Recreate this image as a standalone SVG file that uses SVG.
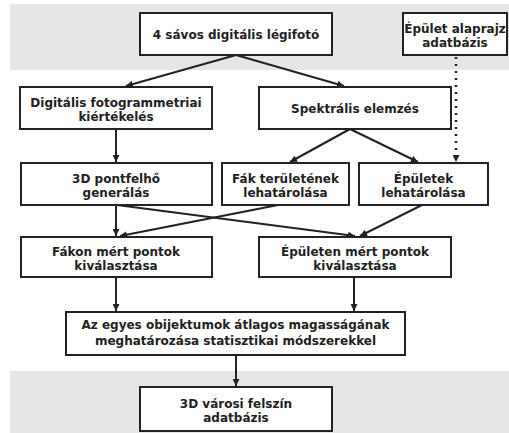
<svg xmlns="http://www.w3.org/2000/svg" width="509" height="433" viewBox="0 0 509 433">
<defs>
<marker id="ah" markerUnits="userSpaceOnUse" markerWidth="8" markerHeight="7" refX="7" refY="3.5" orient="auto">
<path d="M0,0 L7,3.5 L0,7 Z" fill="#222"/>
</marker>
<style>
.box{fill:#fff;stroke:#222;stroke-width:2}
.band{fill:#e6e6e6}
text{font-family:"DejaVu Sans",Verdana,sans-serif;font-weight:bold;font-size:12px;fill:#222;text-anchor:middle}
.c{stroke:#222;stroke-width:2;fill:none;marker-end:url(#ah)}
.d{stroke-dasharray:2,5;stroke-width:2.5}
</style>
</defs>
<rect class="band" x="10" y="4" width="499" height="66"/>
<rect class="band" x="10" y="371" width="499" height="62"/>
<g id="connectors">
<line class="c" x1="236" y1="55" x2="126" y2="86"/>
<line class="c" x1="236" y1="55" x2="344" y2="86"/>
<line class="c" x1="116" y1="129" x2="116" y2="162"/>
<line class="c" x1="350" y1="129" x2="290" y2="162"/>
<line class="c" x1="350" y1="129" x2="418" y2="162"/>
<line class="c d" x1="456" y1="57" x2="456" y2="162"/>
<line class="c" x1="116" y1="205" x2="116" y2="236"/>
<line class="c" x1="117" y1="205" x2="355" y2="236"/>
<line class="c" x1="278" y1="205" x2="120" y2="236"/>
<line class="c" x1="422" y1="205" x2="360" y2="236"/>
<line class="c" x1="116" y1="277" x2="116" y2="311"/>
<line class="c" x1="354" y1="277" x2="354" y2="311"/>
<line class="c" x1="236" y1="355" x2="236" y2="386"/>
</g>
<g id="n1"><rect class="box" x="140" y="13" width="192" height="42"/><text x="236" y="39">4 sávos digitális légifotó</text></g>
<g id="n2"><rect class="box" x="403" y="13" width="104" height="42"/><text x="455" y="32.5">Épület alaprajz</text><text x="455" y="46.5">adatbázis</text></g>
<g id="n3"><rect class="box" x="20" y="87" width="192" height="42"/><text x="116" y="106.5">Digitális fotogrammetriai</text><text x="116" y="120.5">kiértékelés</text></g>
<g id="n4"><rect class="box" x="259" y="87" width="192" height="42"/><text x="355" y="113">Spektrális elemzés</text></g>
<g id="n5"><rect class="box" x="21" y="163" width="191" height="42"/><text x="116" y="182.5">3D pontfelhő</text><text x="116" y="196.5">generálás</text></g>
<g id="n6"><rect class="box" x="222" y="163" width="127" height="42"/><text x="285.5" y="182.5">Fák területének</text><text x="285.5" y="196.5">lehatárolása</text></g>
<g id="n7"><rect class="box" x="359" y="163" width="129" height="42"/><text x="423.5" y="182.5">Épületek</text><text x="423.5" y="196.5">lehatárolása</text></g>
<g id="n8"><rect class="box" x="21" y="237" width="191" height="40"/><text x="116" y="255.5">Fákon mért pontok</text><text x="116" y="269.5">kiválasztása</text></g>
<g id="n9"><rect class="box" x="259" y="237" width="192" height="40"/><text x="355" y="255.5">Épületen mért pontok</text><text x="355" y="269.5">kiválasztása</text></g>
<g id="n10"><rect class="box" x="66" y="312" width="339" height="43"/><text x="235.5" y="329">Az egyes obijektumok átlagos magasságának</text><text x="235.5" y="344.5">meghatározása statisztikai módszerekkel</text></g>
<g id="n11"><rect class="box" x="140" y="387" width="192" height="44"/><text x="236" y="407.5">3D városi felszín</text><text x="236" y="421.5">adatbázis</text></g>
</svg>
